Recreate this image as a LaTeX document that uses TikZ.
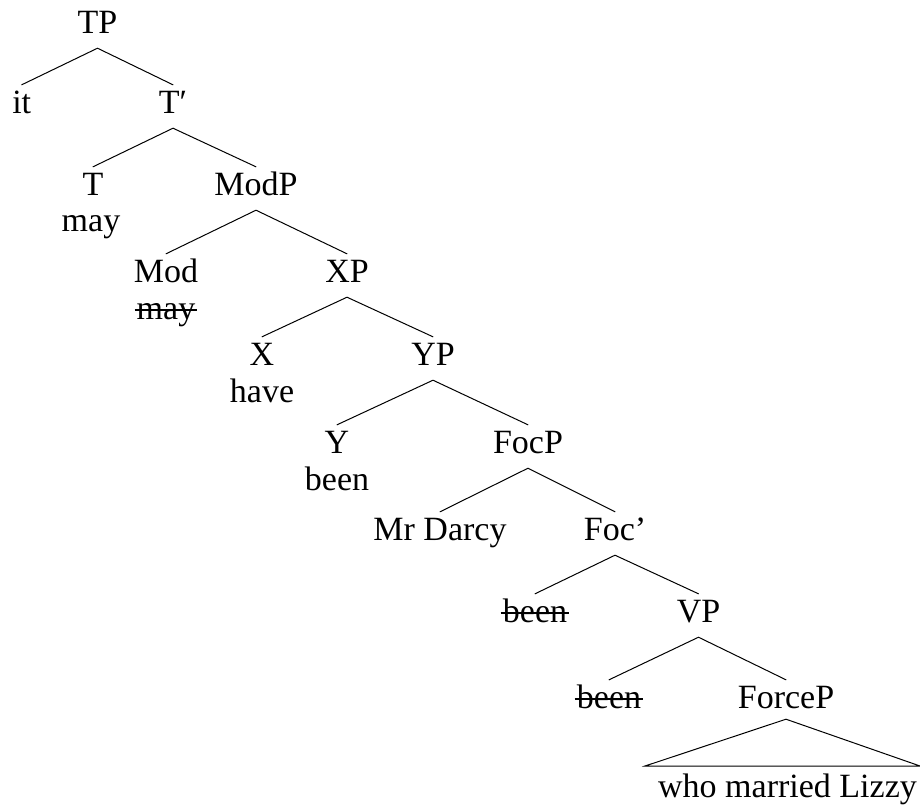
\documentclass[tikz,border=0pt]{standalone}
\usepackage{fontspec}
\setmainfont{Liberation Serif}
\tikzset{
  lab/.style={anchor=base, inner xsep=2pt, inner ysep=4pt, text height=24pt, text depth=11pt,
              font=\fontsize{34}{40}\selectfont},
  edge/.style={line width=1pt, line cap=round},
  strike/.style={line width=1.6pt}
}
\begin{document}
\begin{tikzpicture}[x=1pt,y=-1pt]
\useasboundingbox (0,0) rectangle (920,806);
% level 1
\node[lab] (TP) at (97.5,33) {TP};
% level 2
\node[lab] (it) at (21.7,113) {it};
\node[lab] (Tbar) at (173,113) {T′};
% level 3
\node[lab] (T) at (93,195) {T};
\node[lab] (may1) at (91,231) {may};
\node[lab] (ModP) at (256,195) {ModP};
% level 4
\node[lab] (Mod) at (166,282) {Mod};
\node[lab] (may2) at (166,319) {may};
\node[lab] (XP) at (347,282) {XP};
% level 5
\node[lab] (X) at (262,365) {X};
\node[lab] (have) at (262,402) {have};
\node[lab] (YP) at (433,365) {YP};
% level 6
\node[lab] (Y) at (337,453) {Y};
\node[lab] (been1) at (337,490) {been};
\node[lab] (FocP) at (528,453) {FocP};
% level 7
\node[lab] (MrD) at (440,540) {Mr Darcy};
\node[lab] (Focbar) at (615,540) {Foc’};
% level 8
\node[lab] (been2) at (535,622) {been};
\node[lab] (VP) at (698.5,622) {VP};
% level 9
\node[lab] (been3) at (609,708) {been};
\node[lab] (ForceP) at (786,708) {ForceP};
% level 10
\node[lab] (who) at (787.5,797) {who married Lizzy};
\coordinate (triL) at (645,766);
\coordinate (triR) at (920,766);

% strike-throughs
\foreach \n in {may2,been2,been3}
  \draw[strike] ([yshift=9pt]\n.base west) -- ([yshift=9pt]\n.base east);

\draw[edge] (TP.south) -- (it.north);
\draw[edge] (TP.south) -- (Tbar.north);
\draw[edge] (Tbar.south) -- (T.north);
\draw[edge] (Tbar.south) -- (ModP.north);
\draw[edge] (ModP.south) -- (Mod.north);
\draw[edge] (ModP.south) -- (XP.north);
\draw[edge] (XP.south) -- (X.north);
\draw[edge] (XP.south) -- (YP.north);
\draw[edge] (YP.south) -- (Y.north);
\draw[edge] (YP.south) -- (FocP.north);
\draw[edge] (FocP.south) -- (MrD.north);
\draw[edge] (FocP.south) -- (Focbar.north);
\draw[edge] (Focbar.south) -- (been2.north);
\draw[edge] (Focbar.south) -- (VP.north);
\draw[edge] (VP.south) -- (been3.north);
\draw[edge] (VP.south) -- (ForceP.north);
\draw[edge, line join=miter] ([yshift=4pt]ForceP.south) -- (triL) -- (triR) -- cycle;
\end{tikzpicture}
\end{document}
